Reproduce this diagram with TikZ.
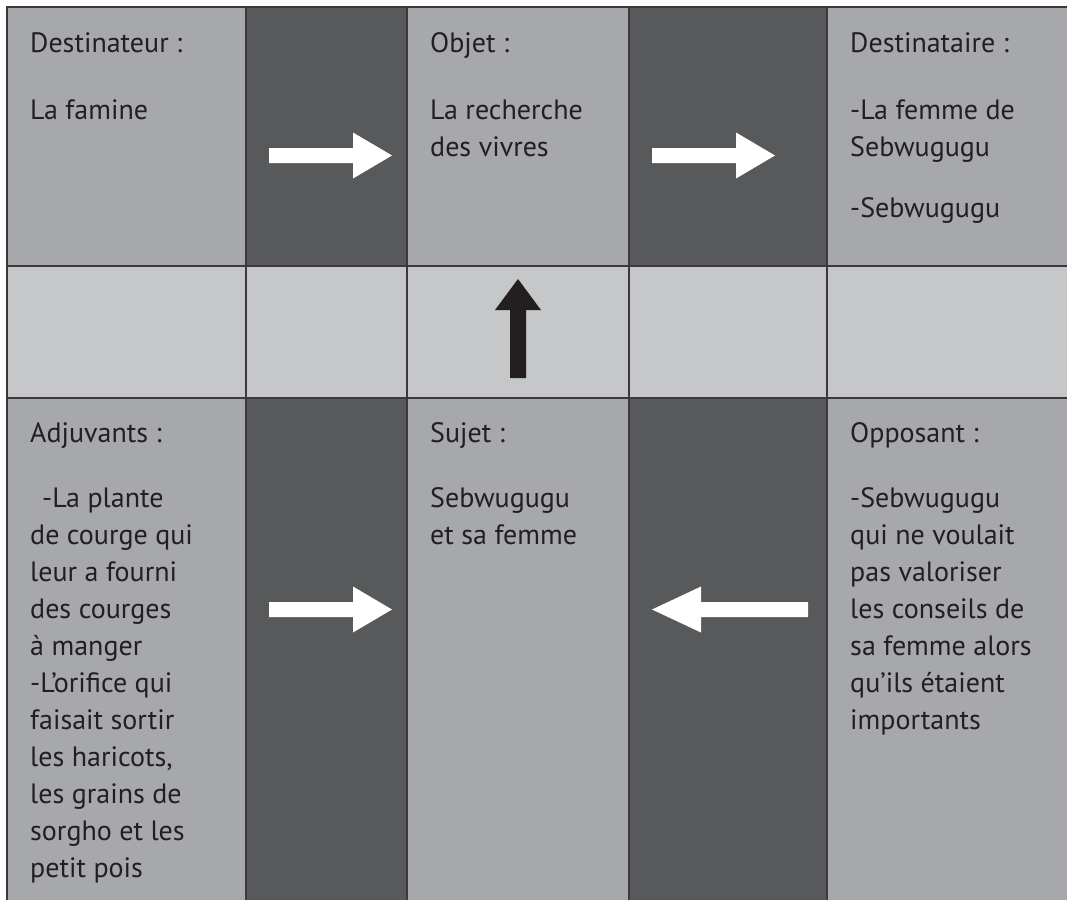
\documentclass[tikz,border=0pt]{standalone}
\usepackage{fontspec}
\setmainfont{PT Sans}
\definecolor{cellgrey}{HTML}{A7A8AB}
\definecolor{bandgrey}{HTML}{58595B}
\definecolor{midgrey}{HTML}{C6C7C9}
\definecolor{rulegrey}{HTML}{3A3A3C}
\definecolor{inkgrey}{HTML}{231F20}
\tikzset{
  celltext/.style={anchor=north west, align=left, inner sep=0pt,
    font=\fontsize{28}{37}\selectfont, text=inkgrey},
  gridline/.style={draw=rulegrey, line width=1.4pt},
  whitearrow/.style={fill=white},
  blackarrow/.style={fill=inkgrey},
}

\begin{document}
\begin{tikzpicture}[x=1pt,y=-1pt]
  \useasboundingbox (0,0) rectangle (1067,900);
  % cells
  \fill[cellgrey] (7,7) rectangle (1067,900);
  \fill[bandgrey] (246,7) rectangle (407,900);
  \fill[bandgrey] (629,7) rectangle (827,900);
  \fill[midgrey] (7,266) rectangle (1067,398);
  % grid
  \draw[gridline] (1067,7) -- (7,7) -- (7,900);
  \draw[gridline] (7,266) -- (1067,266);
  \draw[gridline] (7,398) -- (1067,398);
  \foreach \gx in {246,407,629,827}
    \draw[gridline] (\gx,7) -- (\gx,900);

  % texts
  \node[celltext] (destinateur) at (30,26.1) {\strut Destinateur :\\[30pt]La famine};
  \node[celltext] (objet) at (430,26.1) {\strut Objet :\\[30pt]La recherche\\des vivres};
  \node[celltext] (destinataire) at (850,26.1) {\strut Destinataire :\\[30pt]-La femme de\\Sebwugugu\\[24pt]-Sebwugugu};
  \node[celltext] (adjuvants) at (30,416.1) {\strut Adjuvants :\\[28pt]\hspace*{12pt}-La plante\\de courge qui\\leur a fourni\\des courges\\à manger\\-L’orifice qui\\faisait sortir\\les haricots,\\les grains de\\sorgho et les\\petit pois};
  \node[celltext] (sujet) at (430,416.1) {\strut Sujet :\\[28pt]Sebwugugu\\et sa femme};
  \node[celltext] (opposant) at (850,416.1) {\strut Opposant :\\[28pt]-Sebwugugu\\qui ne voulait\\pas valoriser\\les conseils de\\sa femme alors\\qu’ils étaient\\importants};

  % arrows
  \foreach \ax/\ay in {269/155.5, 652/155.5, 269/609.5}
    \fill[whitearrow, shift={(\ax,\ay)}] (0,-7.5) -- (84,-7.5) -- (84,-23) -- (123,0)
      -- (84,23) -- (84,7.5) -- (0,7.5) -- cycle;
  \fill[whitearrow] (808,602) -- (701,602) -- (701,586.5) -- (652,609.5)
    -- (701,632.5) -- (701,617) -- (808,617) -- cycle;
  \fill[blackarrow] (510,378) -- (510,310) -- (495,310) -- (518,279)
    -- (541,310) -- (526,310) -- (526,378) -- cycle;
\end{tikzpicture}
\end{document}
